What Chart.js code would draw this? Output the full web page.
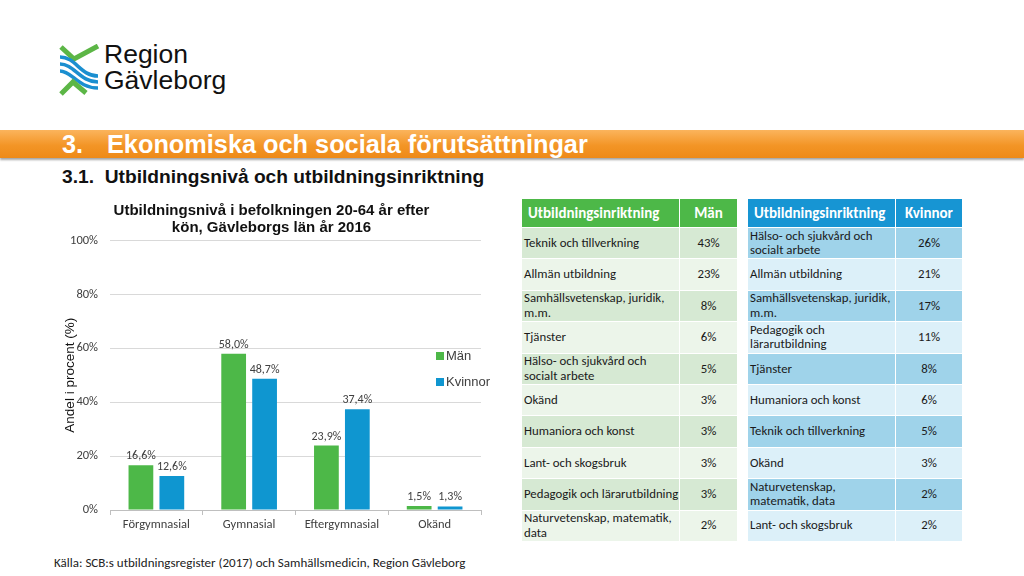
<!DOCTYPE html>
<html lang="sv">
<head>
<meta charset="utf-8">
<title>Utbildningsnivå och utbildningsinriktning</title>
<script src="https://cdn.jsdelivr.net/npm/chart.js@4.4.1/dist/chart.umd.min.js"></script>
<style>
  html, body { margin: 0; padding: 0; }
  body { width: 1024px; height: 576px; position: relative; overflow: hidden; background: #fff; font-family: 'Liberation Sans', Arial, sans-serif; }
  .abs { position: absolute; }
  #logo-text { left: 104px; top: 41px; font-size: 26.5px; line-height: 26px; color: #111; }
  #bar { left: 0; top: 130px; width: 1024px; height: 28px; background: linear-gradient(#fbb45c, #f39526 55%, #ee8a18); box-shadow: 0 2px 2px rgba(0,0,0,0.35); }
  #bar span { position: absolute; top: 1px; font-weight: bold; color: #fff; font-size: 25.3px; line-height: 26px; white-space: nowrap; }
  #sub { left: 62px; top: 166px; font-weight: bold; font-size: 19.2px; color: #111; white-space: nowrap; }
  #chartBox { left: 50px; top: 196px; width: 440px; height: 338px; }
  .leg { font-size: 13px; color: #404040; white-space: nowrap; }
  .leg i { display: inline-block; width: 8px; height: 8px; margin-right: 2px; vertical-align: 0px; }
  table { border-collapse: collapse; table-layout: fixed; font-family: Carlito, Lato, 'Open Sans', sans-serif; font-size: 12.8px; color: #1a1a1a; }
  td, th { border: 1.5px solid #fff; padding: 0 0 0 2px; line-height: 14.5px; }
  th { color: #fff; font-size: 15px; font-weight: bold; height: 28px; }
  th:first-child { text-align: left; padding-left: 6px; }
  tr.row { height: 31.4px; }
  td.v { text-align: center; padding: 0; }
  #menTable { left: 521px; top: 198px; width: 217px; }
  #menTable th { background: #4db848; }
  #menTable tr:nth-child(even) td { background: #d6e9d3; }
  #menTable tr:nth-child(odd) td { background: #ecf5ea; }
  #womenTable { left: 747px; top: 198px; width: 216px; }
  #womenTable th { background: #1795d3; }
  #womenTable tr:nth-child(even) td { background: #9fd3ea; }
  #womenTable tr:nth-child(odd) td { background: #dcf0f9; }
  #src { left: 54px; top: 555px; font-family: Carlito, Lato, sans-serif; font-size: 13px; color: #222; white-space: nowrap; }
</style>
</head>
<body>

<svg class="abs" style="left:58px;top:44px" width="42" height="52" viewBox="0 0 42 52">
  <polyline points="3,3 16,15 40,2" fill="none" stroke="#5cb646" stroke-width="5" stroke-linejoin="miter"/>
  <path d="M2,13 C18,13 22,32 40,32" fill="none" stroke="#1b8fd0" stroke-width="3.5"/>
  <path d="M2,20 C16,20 22,38 40,38" fill="none" stroke="#1b8fd0" stroke-width="3.5"/>
  <path d="M2,27 C14,27 20,44 40,44" fill="none" stroke="#1b8fd0" stroke-width="3.5"/>
  <polyline points="3,50 15,38 28,49" fill="none" stroke="#5cb646" stroke-width="5"/>
</svg>
<div id="logo-text" class="abs">Region<br>Gävleborg</div>

<div id="bar" class="abs"><span style="left:62px">3.</span><span style="left:107px">Ekonomiska och sociala förutsättningar</span></div>
<div id="sub" class="abs">3.1.&nbsp; Utbildningsnivå och utbildningsinriktning</div>

<div id="chartBox" class="abs"><canvas id="eduChart"></canvas></div>
<div class="abs leg" style="left:436px;top:348px"><i style="background:#4db848"></i>Män</div>
<div class="abs leg" style="left:436px;top:374px"><i style="background:#0f96d0"></i>Kvinnor</div>

<table id="menTable" class="abs"><colgroup><col style="width:158px"><col></colgroup></table>
<table id="womenTable" class="abs"><colgroup><col style="width:148px"><col></colgroup></table>

<div id="src" class="abs">Källa: SCB:s utbildningsregister (2017) och Samhällsmedicin, Region Gävleborg</div>

<script>
// utbildningsnivå, andel i procent
const levels = ['Förgymnasial', 'Gymnasial', 'Eftergymnasial', 'Okänd'];
const menLevel = [16.6, 58.0, 23.9, 1.5];
const womenLevel = [12.6, 48.7, 37.4, 1.3];
const yTicks = [0, 20, 40, 60, 80, 100];

// utbildningsinriktning (tabellerna)
const menFields = ['Teknik och tillverkning', 'Allmän utbildning', 'Samhällsvetenskap, juridik, m.m.', 'Tjänster',
  'Hälso- och sjukvård och socialt arbete', 'Okänd', 'Humaniora och konst', 'Lant- och skogsbruk',
  'Pedagogik och lärarutbildning', 'Naturvetenskap, matematik, data'];
const menShare = [43, 23, 8, 6, 5, 3, 3, 3, 3, 2];
const womenFields = ['Hälso- och sjukvård och socialt arbete', 'Allmän utbildning', 'Samhällsvetenskap, juridik, m.m.',
  'Pedagogik och lärarutbildning', 'Tjänster', 'Humaniora och konst', 'Teknik och tillverkning', 'Okänd',
  'Naturvetenskap, matematik, data', 'Lant- och skogsbruk'];
const womenShare = [26, 21, 17, 11, 8, 6, 5, 3, 2, 2];

function fillTable(id, who, fields, shares) {
  const t = document.getElementById(id);
  let html = '<tr><th>Utbildningsinriktning</th><th style="text-align:center;padding:0">' + who + '</th></tr>';
  fields.forEach((f, i) => {
    html += '<tr class="row"><td>' + f + '</td><td class="v">' + shares[i] + '%</td></tr>';
  });
  t.insertAdjacentHTML('beforeend', html);
}
fillTable('menTable', 'Män', menFields, menShare);
fillTable('womenTable', 'Kvinnor', womenFields, womenShare);

Chart.defaults.font.family = 'Carlito, Lato';
Chart.defaults.color = '#404040';

// etiketter ovanför staplarna, med decimalkomma
const barLabels = {
  id: 'barLabels',
  afterDatasetsDraw(chart) {
    const ctx = chart.ctx;
    ctx.save();
    ctx.font = '12px Carlito, Lato';
    ctx.fillStyle = '#404040';
    ctx.textAlign = 'center';
    ctx.textBaseline = 'bottom';
    chart.data.datasets.forEach((ds, i) => {
      chart.getDatasetMeta(i).data.forEach((bar, j) => {
        ctx.fillText(ds.data[j].toFixed(1).replace('.', ',') + '%', bar.x, bar.y - 3);
      });
    });
    ctx.restore();
  }
};

new Chart(document.getElementById('eduChart'), {
  type: 'bar',
  data: {
    labels: levels,
    datasets: [
      { label: 'Män', data: menLevel, backgroundColor: '#4db848' },
      { label: 'Kvinnor', data: womenLevel, backgroundColor: '#0f96d0' }
    ]
  },
  options: {
    responsive: true,
    maintainAspectRatio: false,
    animation: false,
    categoryPercentage: 0.667,
    barPercentage: 0.8,
    layout: { padding: { left: 12, right: 9, top: 0, bottom: 0 } },
    plugins: {
      legend: { display: false },
      tooltip: { enabled: false },
      title: {
        display: true,
        text: ['Utbildningsnivå i befolkningen 20-64 år efter', 'kön, Gävleborgs län år 2016'],
        font: { family: 'Liberation Sans', size: 15, weight: 'bold', lineHeight: 1.15 },
        color: '#111',
        padding: { top: 6, bottom: 4 }
      }
    },
    scales: {
      x: {
        grid: { display: true, drawOnChartArea: false, color: '#bfbfbf', tickLength: 5 },
        border: { color: '#bfbfbf' },
        ticks: { font: { size: 12.5 }, color: '#404040', padding: 2 }
      },
      y: {
        min: 0,
        max: 100,
        afterBuildTicks(scale) { scale.ticks = yTicks.map(v => ({ value: v })); },
        afterFit(scale) { scale.width = 48; },
        grid: { color: '#d9d9d9', tickLength: 0 },
        border: { display: false },
        ticks: { font: { size: 12.5 }, color: '#404040', padding: 12, callback: v => v + '%' },
        title: { display: true, text: 'Andel i procent (%)', font: { family: 'Liberation Sans', size: 13.5 }, color: '#111', padding: 0 }
      }
    }
  },
  plugins: [barLabels]
});
</script>
</body>
</html>
